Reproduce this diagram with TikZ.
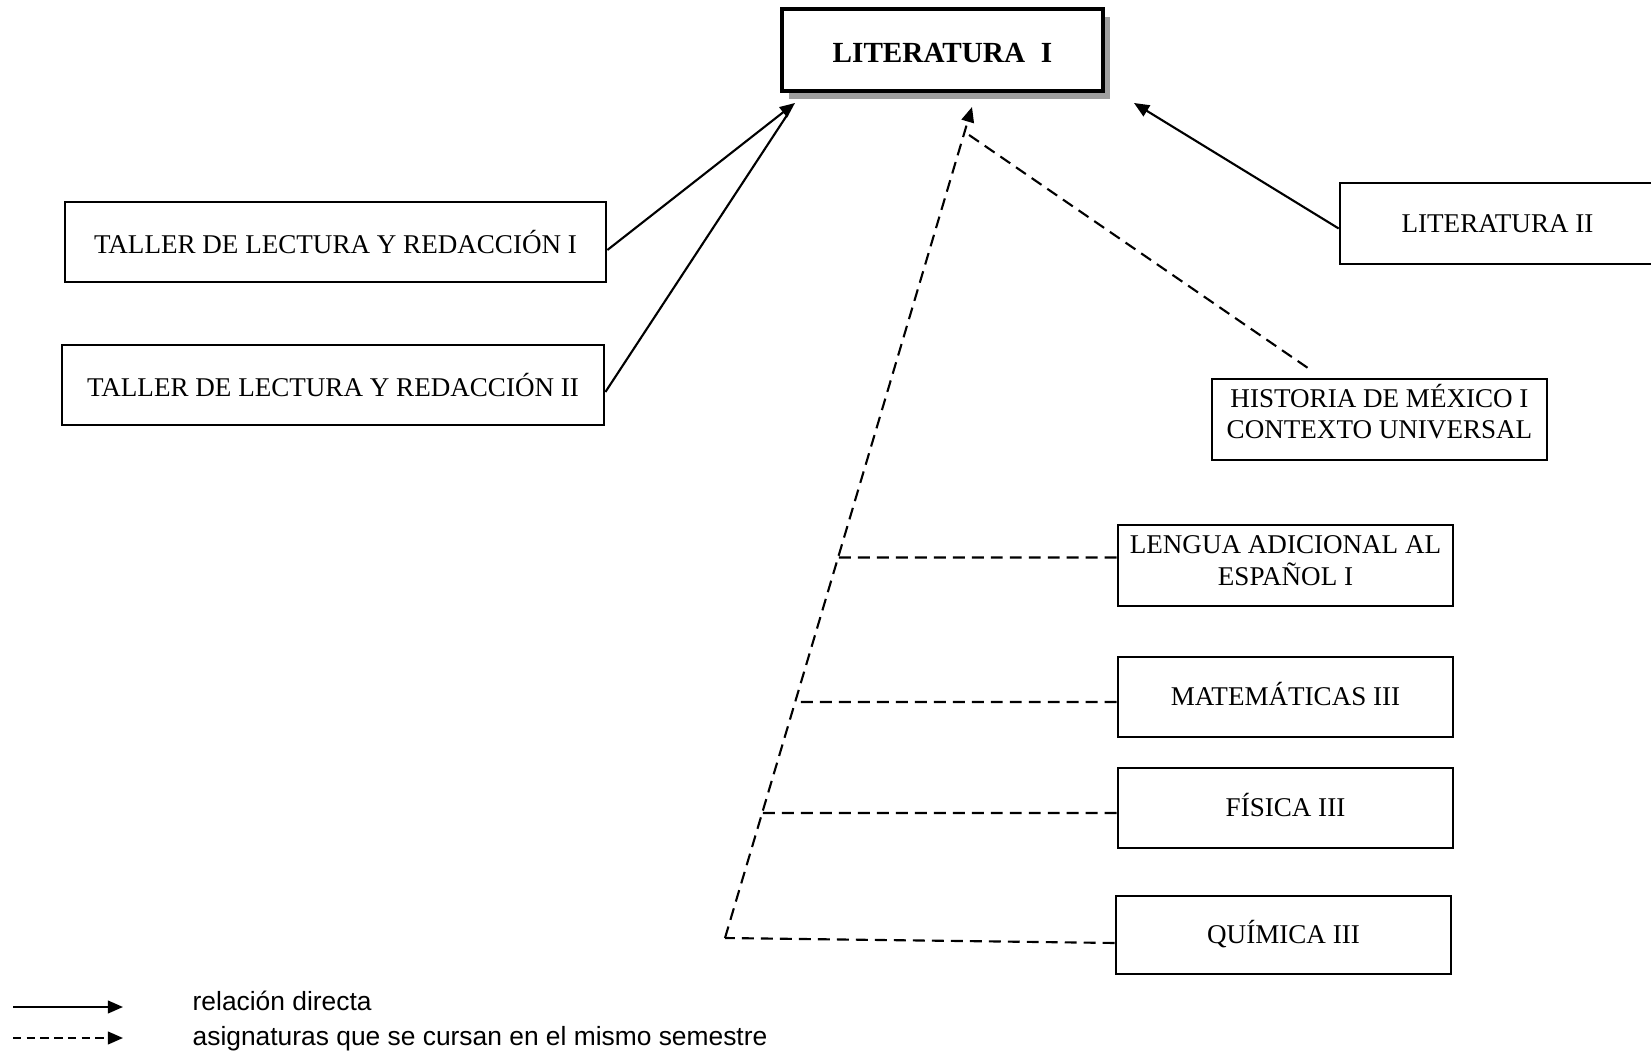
\documentclass[tikz,border=0pt]{standalone}
\usepackage{fontspec}
\setmainfont{Liberation Serif}
\setsansfont{Liberation Sans}
\usepackage{tikz}
\usetikzlibrary{calc}
\usetikzlibrary{arrows.meta}
\usetikzlibrary{shadows}
\tikzset{
	CAJA/.style={draw,line width=0.7pt,inner sep=0pt,align=center,font=\fontsize{7.7}{8.8}\selectfont},
	UNA/.style={CAJA,text height=5.1pt,text depth=0pt}
}
\tikzset{
	RD/.style={line width=0.6pt},
	MS/.style={line width=0.6pt,dash pattern=on 3.4pt off 2pt},
	PUNTA/.style={-{Triangle[length=4.3pt,width=3.6pt]}}
}
\newcommand{\dos}[3]{\raisebox{#1}[\height][\depth]{\begin{tabular}{@{}c@{}}#2\\#3\end{tabular}}}

\begin{document}
\begin{tikzpicture}[x=0.01cm,y=-0.01cm]
	\useasboundingbox (0,0) rectangle (1651,1055);
	\node[CAJA,line width=1.1pt,fill=white,general shadow={fill=gray!75,shadow xshift=2pt,shadow yshift=-2.3pt},minimum width=3.21cm,minimum height=0.82cm,font=\bfseries\fontsize{8.3}{10}\selectfont] (L1) at (942.5,50) {\raisebox{-0.85pt}[\height][\depth]{LITERATURA\hspace{4.5pt}I}};
	\node[UNA,text height=6.5pt,minimum width=5.41cm,minimum height=0.8cm] (TLR1) at (335.5,242) {TALLER DE LECTURA Y REDACCIÓN I};
	\node[UNA,text height=6.5pt,minimum width=5.42cm,minimum height=0.8cm] (TLR2) at (333,385) {TALLER DE LECTURA Y REDACCIÓN II};
	\node[UNA,minimum width=3.15cm,minimum height=0.81cm] (L2) at (1497.5,223.5) {LITERATURA II};
	\node[CAJA,minimum width=3.35cm,minimum height=0.81cm] (HM) at (1379.5,419.5) {\dos{1pt}{HISTORIA DE MÉXICO I}{CONTEXTO UNIVERSAL}};
	\node[CAJA,minimum width=3.35cm,minimum height=0.81cm] (LA) at (1285.5,565.5) {\dos{0.7pt}{LENGUA ADICIONAL AL}{ESPAÑOL I}};
	\node[UNA,minimum width=3.35cm,minimum height=0.8cm] (M3) at (1285.5,697) {MATEMÁTICAS III};
	\node[UNA,minimum width=3.35cm,minimum height=0.8cm] (F3) at (1285.5,808) {FÍSICA III};
	\node[UNA,minimum width=3.35cm,minimum height=0.78cm] (Q3) at (1283.5,935) {QUÍMICA III};
	\coordinate (PA) at (795,103);
	\coordinate (PB) at (1134,103);
	\coordinate (PC) at (972,107);
	\coordinate (V) at (725,938);
	\draw[RD,PUNTA] ($(TLR1.east)+(0,8)$) -- (PA);
	\draw[RD,shorten >=4pt] ($(TLR2.east)+(0,7)$) -- (PA);
	\draw[RD,PUNTA] ($(L2.west)+(0,5)$) -- (PB);
	\draw[MS,PUNTA] (V) -- (PC);
	\draw[MS] ($(HM.north)+(-72,-10)$) -- ($(V)!0.97!(PC)$);
	\foreach \caja/\dy in {LA/-8,M3/5,F3/5}{
		\draw[MS] ($(\caja.west)+(0,\dy)$) -- (intersection cs: first line={(V)--(PC)}, second line={($(\caja.west)+(0,\dy)$)--($(\caja.east)+(0,\dy)$)});
	}
	\draw[MS] ($(Q3.west)+(0,8)$) -- (V);
	% leyenda
	\coordinate (LG1) at (13,1007);
	\coordinate (LG2) at (13,1038);
	\node[anchor=base west,inner sep=0pt,font=\sffamily\fontsize{7.5}{9}\selectfont] (T1) at (192,1010) {relación directa};
	\node[anchor=base west,inner sep=0pt,font=\sffamily\fontsize{7.5}{9}\selectfont] (T2) at (192,1045) {asignaturas que se cursan en el mismo semestre};
	\draw[RD,PUNTA] (LG1) -- ++(110,0);
	\draw[RD,PUNTA,dash pattern=on 2.4pt off 1.5pt] (LG2) -- ++(110,0);
\end{tikzpicture}
\end{document}
